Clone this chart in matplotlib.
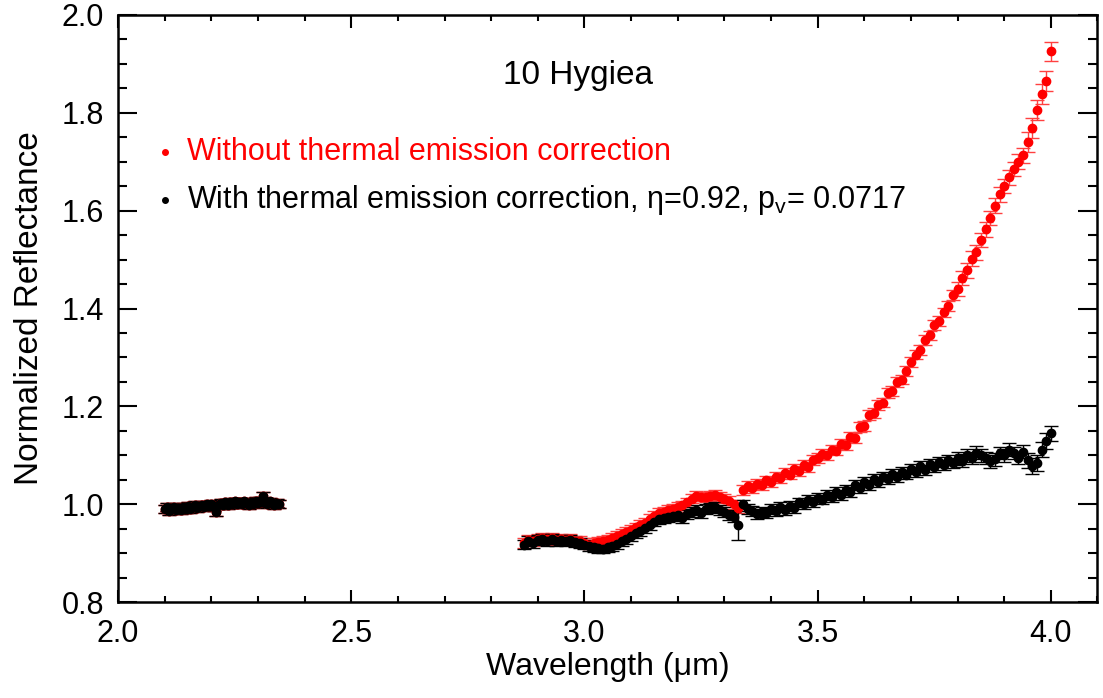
import matplotlib
matplotlib.use("Agg")
import matplotlib.pyplot as plt
from matplotlib.ticker import MultipleLocator

plt.rcParams['font.family'] = ['Liberation Sans', 'DejaVu Sans']

# ---- data ----
wl_short = [2.100, 2.105, 2.110, 2.115, 2.120, 2.125, 2.130, 2.135, 2.140, 2.145,
            2.150, 2.155, 2.160, 2.165, 2.170, 2.175, 2.180, 2.185, 2.190, 2.195,
            2.200, 2.205, 2.210, 2.215, 2.220, 2.225, 2.230, 2.235, 2.240, 2.245,
            2.250, 2.255, 2.260, 2.265, 2.270, 2.275, 2.280, 2.285, 2.290, 2.295,
            2.300, 2.305, 2.310, 2.315, 2.320, 2.325, 2.330, 2.335, 2.340, 2.345]
refl_short = [0.990, 0.994, 0.987, 0.992, 0.995, 0.989, 0.993, 0.988, 0.994, 0.990,
              0.996, 0.991, 0.995, 0.998, 0.992, 0.997, 0.999, 0.994, 1.000, 0.996,
              1.001, 0.995, 0.985, 0.999, 1.003, 0.998, 1.004, 0.999, 1.005, 1.000,
              1.006, 1.001, 1.005, 1.000, 1.006, 1.002, 0.999, 1.005, 1.001, 1.007,
              1.002, 1.008, 1.018, 1.003, 1.000, 1.006, 1.002, 0.999, 1.003, 1.001]
err_short = 0.008

wl_long = [2.87, 2.88, 2.89, 2.90, 2.91, 2.92, 2.93, 2.94, 2.95, 2.96,
           2.97, 2.98, 2.99, 3.00, 3.01, 3.02, 3.03, 3.04, 3.05, 3.06,
           3.07, 3.08, 3.09, 3.10, 3.11, 3.12, 3.13, 3.14, 3.15, 3.16,
           3.17, 3.18, 3.19, 3.20, 3.21, 3.22, 3.23, 3.24, 3.25, 3.26,
           3.27, 3.28, 3.29, 3.30, 3.31, 3.32, 3.33, 3.34, 3.35, 3.36,
           3.37, 3.38, 3.39, 3.40, 3.41, 3.42, 3.43, 3.44, 3.45, 3.46,
           3.47, 3.48, 3.49, 3.50, 3.51, 3.52, 3.53, 3.54, 3.55, 3.56,
           3.57, 3.58, 3.59, 3.60, 3.61, 3.62, 3.63, 3.64, 3.65, 3.66,
           3.67, 3.68, 3.69, 3.70, 3.71, 3.72, 3.73, 3.74, 3.75, 3.76,
           3.77, 3.78, 3.79, 3.80, 3.81, 3.82, 3.83, 3.84, 3.85, 3.86,
           3.87, 3.88, 3.89, 3.90, 3.91, 3.92, 3.93, 3.94, 3.95, 3.96,
           3.97, 3.98, 3.99, 4.00]

refl_uncorrected = [0.922, 0.928, 0.925, 0.930, 0.932, 0.929, 0.931, 0.928, 0.930, 0.927,
                    0.929, 0.926, 0.925, 0.922, 0.918, 0.921, 0.923, 0.925, 0.928, 0.932,
                    0.935, 0.939, 0.943, 0.948, 0.953, 0.958, 0.963, 0.970, 0.976, 0.982,
                    0.985, 0.988, 0.991, 0.994, 0.998, 1.004, 1.012, 1.018, 1.016, 1.015,
                    1.018, 1.020, 1.015, 1.012, 1.008, 1.000, 0.992, 1.030, 1.037, 1.034,
                    1.042, 1.040, 1.049, 1.046, 1.057, 1.054, 1.065, 1.061, 1.072, 1.069,
                    1.081, 1.077, 1.090, 1.094, 1.103, 1.100, 1.112, 1.110, 1.124, 1.122,
                    1.138, 1.136, 1.158, 1.160, 1.182, 1.186, 1.203, 1.208, 1.228, 1.232,
                    1.250, 1.255, 1.272, 1.290, 1.306, 1.315, 1.335, 1.345, 1.366, 1.375,
                    1.392, 1.405, 1.428, 1.440, 1.462, 1.478, 1.502, 1.515, 1.540, 1.562,
                    1.585, 1.610, 1.633, 1.650, 1.668, 1.685, 1.700, 1.713, 1.740, 1.768,
                    1.805, 1.838, 1.865, 1.925]

refl_corrected = [0.918, 0.925, 0.922, 0.928, 0.930, 0.926, 0.929, 0.926, 0.928, 0.925,
                  0.927, 0.924, 0.922, 0.918, 0.915, 0.913, 0.911, 0.910, 0.913, 0.915,
                  0.920, 0.925, 0.930, 0.936, 0.941, 0.946, 0.952, 0.958, 0.965, 0.970,
                  0.973, 0.975, 0.977, 0.978, 0.972, 0.980, 0.985, 0.988, 0.982, 0.990,
                  0.993, 0.994, 0.989, 0.984, 0.978, 0.975, 0.957, 1.000, 0.990, 0.986,
                  0.980, 0.985, 0.982, 0.990, 0.986, 0.995, 0.989, 0.997, 0.993, 1.004,
                  1.000, 1.010, 1.005, 1.014, 1.010, 1.020, 1.015, 1.025, 1.020, 1.030,
                  1.026, 1.040, 1.034, 1.045, 1.040, 1.052, 1.046, 1.057, 1.052, 1.062,
                  1.056, 1.066, 1.061, 1.072, 1.066, 1.078, 1.071, 1.082, 1.076, 1.086,
                  1.080, 1.090, 1.084, 1.094, 1.089, 1.100, 1.095, 1.106, 1.100, 1.095,
                  1.088, 1.092, 1.105, 1.100, 1.112, 1.105, 1.095, 1.108, 1.090, 1.078,
                  1.085, 1.112, 1.130, 1.145]

err_uncorrected = [0.010] * 93 + [0.015] * 15 + [0.020] * 6
err_corrected = [0.010] * 46 + [0.030] + [0.010] * 46 + [0.013] * 15 + [0.016] * 6

title = "10 Hygiea"
label_red = "Without thermal emission correction"
label_black = "With thermal emission correction, \u03b7=0.92, $\\mathregular{p_v}$= 0.0717"

# ---- figure ----
fig = plt.figure(figsize=(11.03, 6.98), dpi=100)
ax = fig.add_axes([0.107, 0.137, 0.888, 0.842])

ekw = dict(fmt='o', markersize=6, elinewidth=1.0, capsize=5, capthick=1.0,
           linestyle='none')
# red (uncorrected) underneath
ax.errorbar(wl_short, refl_short, yerr=err_short, color='#ff0000', **ekw)
ax.errorbar(wl_long, refl_uncorrected, yerr=err_uncorrected, color='#ff0000',
            ecolor='#ff4040', **ekw)
# black (corrected) on top
ax.errorbar(wl_short, refl_short, yerr=err_short, color='black', **ekw)
ax.errorbar(wl_long, refl_corrected, yerr=err_corrected, color='black', **ekw)

ax.set_xlim(2.0, 4.1)
ax.set_ylim(0.8, 2.0)
ax.xaxis.set_major_locator(MultipleLocator(0.5))
ax.xaxis.set_minor_locator(MultipleLocator(0.1))
ax.yaxis.set_major_locator(MultipleLocator(0.2))
ax.yaxis.set_minor_locator(MultipleLocator(0.05))
ax.xaxis.set_major_formatter(plt.FormatStrFormatter('%.1f'))
ax.yaxis.set_major_formatter(plt.FormatStrFormatter('%.1f'))

ax.tick_params(axis='x', which='major', direction='in', length=9, width=1.5,
               top=True, labelsize=22, pad=12)
ax.tick_params(axis='x', which='minor', direction='in', length=4.5, width=1.5, top=True)
ax.tick_params(axis='y', which='major', direction='in', length=14, width=1.5,
               right=True, labelsize=22, pad=10)
ax.tick_params(axis='y', which='minor', direction='in', length=6.5, width=1.5, right=True)
for s in ax.spines.values():
    s.set_linewidth(1.8)

ax.set_xlabel("Wavelength (\u03bcm)", fontsize=23, labelpad=2)
ax.set_ylabel("Normalized Reflectance", fontsize=24, labelpad=12)

ax.text(0.47, 0.897, title, transform=ax.transAxes, ha='center', va='center',
        fontsize=24)

# legend-like annotation
ax.plot([0.048], [0.766], marker='o', markersize=4, color='#ff0000',
        transform=ax.transAxes, clip_on=False)
ax.text(0.070, 0.766, label_red, transform=ax.transAxes, ha='left', va='center',
        fontsize=22, color='#ff0000')
ax.plot([0.048], [0.684], marker='o', markersize=4, color='black',
        transform=ax.transAxes, clip_on=False)
ax.text(0.070, 0.684, label_black, transform=ax.transAxes, ha='left', va='center',
        fontsize=22, color='black')

fig.savefig("out.png", dpi=100)
